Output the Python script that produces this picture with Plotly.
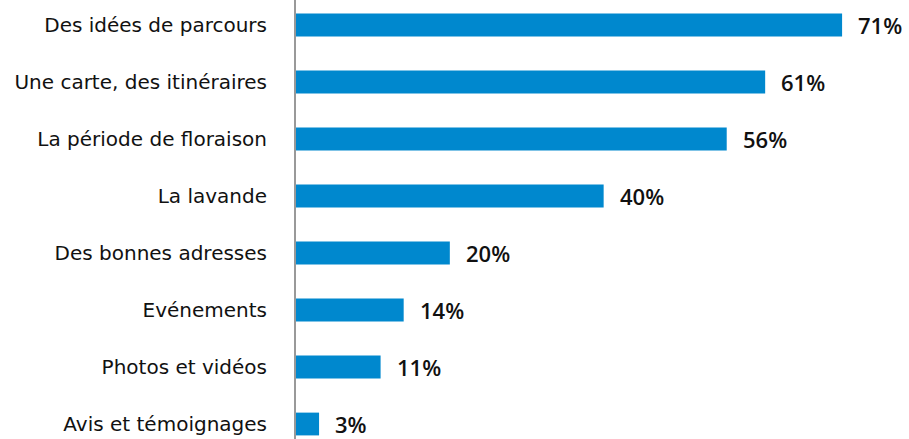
import plotly.graph_objects as go

categories = [
    "Des idées de parcours",
    "Une carte, des itinéraires",
    "La période de floraison",
    "La lavande",
    "Des bonnes adresses",
    "Evénements",
    "Photos et vidéos",
    "Avis et témoignages",
]
values = [71, 61, 56, 40, 20, 14, 11, 3]
labels = [f"{v}%" for v in values]

BAR_COLOR = "#0088CE"
TEXT_COLOR = "#111111"
LABEL_FONT = "DejaVu Sans"
VALUE_FONT = "Open Sans"

fig = go.Figure(
    go.Bar(
        x=values,
        y=categories,
        orientation="h",
        marker=dict(color=BAR_COLOR, line=dict(width=0)),
        width=0.40,
        hoverinfo="skip",
    )
)

for cat, v, lab in zip(categories, values, labels):
    fig.add_annotation(
        x=v, y=cat, text=lab, showarrow=False,
        xanchor="left", xshift=14,
        font=dict(family=VALUE_FONT, size=22, weight=600, color=TEXT_COLOR),
    )

fig.update_layout(
    width=909, height=439,
    margin=dict(l=296, r=0, t=0, b=0),
    paper_bgcolor="white", plot_bgcolor="white",
    showlegend=False,
    font=dict(family=LABEL_FONT, size=20, color=TEXT_COLOR),
    xaxis=dict(range=[0, 79.7], visible=False, fixedrange=True),
    yaxis=dict(
        type="category",
        categoryorder="array", categoryarray=categories,
        range=[7.263, -0.4386],
        showline=True, linecolor="#999999", linewidth=2,
        showgrid=False, zeroline=False, ticks="",
        ticklabelstandoff=23,
        tickfont=dict(family=LABEL_FONT, size=20, color=TEXT_COLOR),
        fixedrange=True,
    ),
)

fig.write_html("out.html")
